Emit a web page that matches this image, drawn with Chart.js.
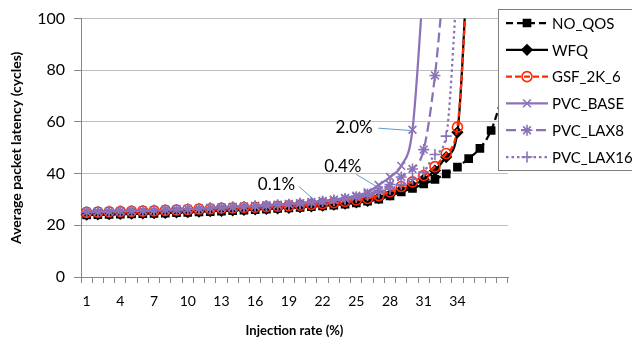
<!DOCTYPE html>
<html>
<head>
<meta charset="utf-8">
<script src="https://cdn.jsdelivr.net/npm/chart.js@4/dist/chart.umd.min.js"></script>
<style>
  html, body { margin: 0; padding: 0; background: #fff; }
  #wrap { width: 632px; height: 345px; }
</style>
</head>
<body>
<div id="wrap"><canvas id="latencyChart" width="632" height="345"></canvas></div>
<script>
// injection rate categories (%)
const injectionRates = [];
for (let i = 1; i <= 38; i++) injectionRates.push(i);
const xTickLabels = [1, 4, 7, 10, 13, 16, 19, 22, 25, 28, 31, 34];
const yTicks = [0, 20, 40, 60, 80, 100];

// average packet latency (cycles)
const noQos = [24.0, 24.1, 24.2, 24.3, 24.4, 24.5, 24.6, 24.7, 24.9, 25.0, 25.2, 25.3, 25.5, 25.7, 25.9, 26.1, 26.3, 26.5, 26.7, 26.9,
  27.2, 27.5, 27.8, 28.2, 28.7, 29.3, 30.1, 31.4, 32.9, 34.3, 36.0, 37.8, 39.9, 42.5, 45.8, 49.8, 56.7, 70.0];
const wfq = [24.1, 24.2, 24.3, 24.4, 24.5, 24.6, 24.7, 24.8, 25.0, 25.1, 25.3, 25.5, 25.6, 25.8, 26.0, 26.2, 26.4, 26.6, 26.8, 27.0,
  27.3, 27.6, 28.0, 28.4, 28.9, 29.5, 30.5, 31.9, 33.6, 35.4, 37.8, 41.2, 46.4, 56.0, 130, null, null, null];
const gsf2k6 = [25.0, 25.1, 25.2, 25.3, 25.4, 25.5, 25.6, 25.8, 25.9, 26.1, 26.3, 26.4, 26.6, 26.7, 26.9, 27.0, 27.2, 27.4, 27.6, 27.8,
  28.1, 28.4, 28.8, 29.3, 29.8, 30.4, 31.5, 33.0, 35.0, 36.8, 39.3, 42.7, 47.8, 58.0, 125, null, null, null];
const pvcBase = [25.2, 25.3, 25.4, 25.5, 25.6, 25.7, 25.8, 26.0, 26.1, 26.3, 26.5, 26.7, 26.9, 27.1, 27.3, 27.5, 27.8, 28.0, 28.3, 28.6,
  29.0, 29.4, 29.9, 30.6, 31.5, 32.8, 35.6, 38.7, 43.0, 57.0, 115, null, null, null, null, null, null, null];
const pvcLax8 = [25.2, 25.3, 25.4, 25.5, 25.6, 25.7, 25.8, 26.0, 26.1, 26.3, 26.5, 26.7, 26.9, 27.1, 27.3, 27.5, 27.7, 27.9, 28.2, 28.5,
  28.9, 29.3, 29.8, 30.4, 31.1, 32.1, 33.6, 35.8, 38.7, 41.8, 49.3, 78.0, 125, null, null, null, null, null];
const pvcLax16 = [25.2, 25.3, 25.4, 25.5, 25.6, 25.7, 25.8, 26.0, 26.1, 26.3, 26.5, 26.7, 26.9, 27.1, 27.3, 27.5, 27.7, 27.9, 28.1, 28.4,
  28.8, 29.2, 29.6, 30.1, 30.7, 31.5, 32.5, 34.0, 35.8, 37.8, 40.6, 47.4, 54.5, 115, null, null, null, null];

// callouts: text anchor and arrow, in (category index, latency) terms
const callouts = [
  { text: '0.1%', at: [16.9, 35.6], from: [18.9, 35.0], to: [20.2, 30.0] },
  { text: '0.4%', at: [22.8, 42.9], from: [24.0, 39.7], to: [25.8, 35.0] },
  { text: '2.0%', at: [23.8, 58.0], from: [25.95, 57.6], to: [28.8, 56.7] },
];

const PURPLE = '#8b72b8';
const FONT = 'Lato, "Open Sans", sans-serif';

function series(label, data, color, dash, style, radius, fill, order) {
  return {
    label: label,
    data: data,
    borderColor: color,
    borderWidth: 2.25,
    borderDash: dash,
    pointStyle: style,
    pointRadius: radius,
    pointBorderColor: color,
    pointBackgroundColor: fill,
    pointBorderWidth: 1.6,
    cubicInterpolationMode: 'monotone',
    spanGaps: false,
    order: order,
  };
}

// legend box in the top-right corner, on top of the plot
const boxLegend = {
  id: 'boxLegend',
  afterDraw(chart) {
    const ctx = chart.ctx;
    const left = 498, top = 9, bottom = 170;
    ctx.save();
    ctx.fillStyle = '#fff';
    ctx.fillRect(left, top, 640 - left, bottom - top);
    ctx.strokeStyle = '#7f7f7f';
    ctx.lineWidth = 1;
    ctx.strokeRect(left + 0.5, top + 0.5, 640 - left, bottom - top);
    const sets = chart.data.datasets;
    sets.forEach((ds, i) => {
      const y = 23 + i * 26.8;
      ctx.beginPath();
      ctx.setLineDash(ds.borderDash || []);
      ctx.strokeStyle = ds.borderColor;
      ctx.lineWidth = ds.borderWidth;
      ctx.moveTo(506, y);
      ctx.lineTo(548, y);
      ctx.stroke();
      ctx.setLineDash([]);
      ctx.fillStyle = ds.pointBackgroundColor;
      ctx.strokeStyle = ds.pointBorderColor;
      ctx.lineWidth = ds.pointBorderWidth;
      if (Chart.helpers && Chart.helpers.drawPoint) {
        Chart.helpers.drawPoint(ctx, { pointStyle: ds.pointStyle, radius: ds.pointRadius, rotation: 0, borderWidth: ds.pointBorderWidth }, 527, y);
      }
      ctx.fillStyle = '#000';
      ctx.font = '15px ' + FONT;
      ctx.textBaseline = 'middle';
      ctx.textAlign = 'left';
      ctx.fillText(ds.label, 552, y + 1);
    });
    ctx.restore();
  }
};

const calloutLabels = {
  id: 'calloutLabels',
  afterDatasetsDraw(chart) {
    const ctx = chart.ctx;
    const xs = chart.scales.x, ys = chart.scales.y;
    const px = (p) => [xs.getPixelForValue(p[0]), ys.getPixelForValue(p[1])];
    ctx.save();
    callouts.forEach(c => {
      const a = px(c.from), b = px(c.to), t = px(c.at);
      ctx.beginPath();
      ctx.strokeStyle = '#5b9bd5';
      ctx.lineWidth = 1;
      ctx.moveTo(a[0], a[1]);
      ctx.lineTo(b[0], b[1]);
      ctx.stroke();
      ctx.fillStyle = '#000';
      ctx.font = '17px ' + FONT;
      ctx.textAlign = 'center';
      ctx.textBaseline = 'middle';
      ctx.fillText(c.text, t[0], t[1]);
    });
    ctx.restore();
  }
};

const el = document.getElementById('latencyChart');

if (el) {
  new Chart(el, {
    type: 'line',
    data: {
      labels: injectionRates,
      datasets: [
        series('NO_QOS', noQos, '#000000', [7, 4], 'rect', 5, '#000000', 5),
        series('WFQ', wfq, '#000000', [], 'rectRot', 5, '#000000', 4),
        series('GSF_2K_6', gsf2k6, '#ff2a00', [6, 3], 'circle', 5, 'rgba(255,255,255,0)', 3),
        series('PVC_BASE', pvcBase, PURPLE, [], 'crossRot', 5.5, PURPLE, 2),
        series('PVC_LAX8', pvcLax8, PURPLE, [10, 5], 'star', 5.5, PURPLE, 1),
        series('PVC_LAX16', pvcLax16, PURPLE, [2.5, 3], 'cross', 5.5, PURPLE, 0),
      ],
    },
    options: {
      responsive: false,
      animation: false,
      devicePixelRatio: 1,
      layout: { padding: { top: 9, right: 124, left: 0, bottom: 0 } },
      plugins: {
        legend: { display: false },
        tooltip: { enabled: false },
      },
      scales: {
        x: {
          type: 'category',
          offset: true,
          grid: {
            offset: true,
            drawOnChartArea: false,
            drawTicks: true,
            tickLength: 6,
            color: '#868686',
          },
          border: { color: '#868686', width: 1 },
          ticks: {
            autoSkip: false,
            maxRotation: 0,
            padding: 10,
            color: '#000',
            font: { family: FONT, size: 14 },
            callback: function (value) {
              const lab = this.getLabelForValue(value);
              return xTickLabels.includes(lab) ? String(lab) : '';
            },
          },
          title: {
            display: true,
            text: 'Injection rate (%)',
            color: '#000',
            font: { family: FONT, size: 13, weight: 'bold' },
            padding: { top: 4, bottom: 6 },
          },
          afterFit(scale) { scale.height = 68; },
        },
        y: {
          min: 0,
          max: 100,
          afterBuildTicks(scale) { scale.ticks = yTicks.map(v => ({ value: v })); },
          grid: {
            color: '#bfbfbf',
            tickColor: '#868686',
            tickLength: 7,
          },
          border: { color: '#868686', width: 1 },
          ticks: {
            padding: 9,
            color: '#000',
            font: { family: FONT, size: 16 },
          },
          title: {
            display: true,
            text: 'Average packet latency (cycles)',
            color: '#000',
            font: { family: FONT, size: 14, weight: 'bold' },
            padding: { top: 8, bottom: 0 },
          },
          afterFit(scale) { scale.width = 81; },
        },
      },
    },
    plugins: [calloutLabels, boxLegend],
  });
}
</script>
</body>
</html>
